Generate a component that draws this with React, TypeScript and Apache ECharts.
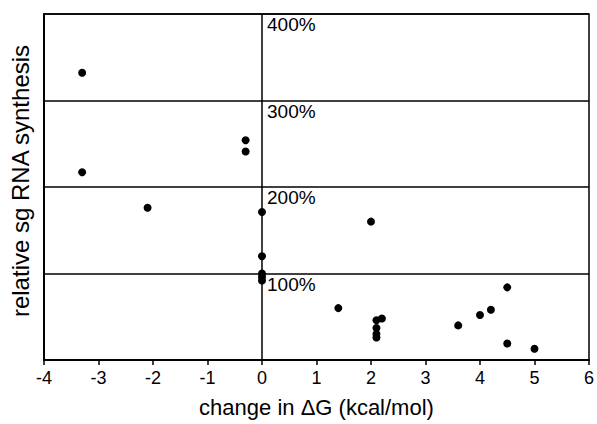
import React, { useEffect, useRef } from "react";
import * as echarts from "echarts";

const xValues = [-3.3, -0.3, -0.3, -3.3, -2.1, 0, 0, 0, 0, 0, 2.0, 1.4, 2.1, 2.2, 2.1, 2.1, 2.1, 3.6, 4.0, 4.2, 4.5, 4.5, 5.0];
const yValues = [332, 254, 241, 217, 176, 171, 120, 100, 96, 92, 160, 60, 46, 48, 37, 30, 26, 40, 52, 58, 84, 19, 13];
const levelValues = [400, 300, 200, 100];
const levelLabels = ["400%", "300%", "200%", "100%"];
const xTicks = [-4, -3, -2, -1, 0, 1, 2, 3, 4, 5, 6];

const FONT = "'Liberation Sans', Arial, sans-serif";

export default function App() {
  const ref = useRef<HTMLDivElement>(null);
  useEffect(() => {
    if (!ref.current) return;
    const chart = echarts.init(ref.current, undefined, { renderer: "svg" });
    chart.setOption({
      animation: false,
      backgroundColor: "#fff",
      grid: {
        left: 44,
        right: 8,
        top: 14,
        bottom: 64,
        containLabel: false,
        outerBoundsMode: "none",
        show: true,
        borderColor: "#000",
        borderWidth: 1.5,
        backgroundColor: "transparent",
      },
      xAxis: {
        type: "value",
        min: xTicks[0],
        max: xTicks[xTicks.length - 1],
        interval: 1,
        name: "change in \u0394G (kcal/mol)",
        nameLocation: "middle",
        nameGap: 36,
        nameTextStyle: { fontFamily: FONT, fontSize: 22, color: "#000" },
        axisLine: { show: true, onZero: false, lineStyle: { color: "#000", width: 2 } },
        axisTick: { show: true, length: 5, lineStyle: { color: "#000", width: 1.5 } },
        axisLabel: { fontFamily: FONT, fontSize: 18, color: "#000", margin: 9 },
        splitLine: { show: false },
      },
      yAxis: {
        type: "value",
        min: 0,
        max: 400,
        interval: 100,
        name: "relative sg RNA synthesis",
        nameLocation: "middle",
        nameGap: 12,
        nameTextStyle: { fontFamily: FONT, fontSize: 24, color: "#000", padding: [0, 0, 0, 12] },
        axisLine: { show: true, onZero: false, lineStyle: { color: "#000", width: 2 } },
        axisTick: { show: false },
        axisLabel: { show: false },
        splitLine: { show: true, lineStyle: { color: "#000", width: 1.5 } },
      },
      series: [
        {
          type: "scatter",
          data: xValues.map((x, i) => [x, yValues[i]]),
          symbol: "circle",
          symbolSize: 8,
          itemStyle: { color: "#000", opacity: 1 },
          z: 5,
          markLine: {
            silent: true,
            symbol: "none",
            label: { show: false },
            lineStyle: { color: "#000", width: 1.5, type: "solid" },
            data: [{ xAxis: 0 }],
          },
        },
        {
          type: "scatter",
          data: levelValues.map((v, i) => ({ value: [0, v], name: levelLabels[i] })),
          symbolSize: 0,
          silent: true,
          itemStyle: { opacity: 1 },
          label: {
            show: true,
            position: [5, 1],
            formatter: (p: any) => p.name,
            fontFamily: FONT,
            fontSize: 19,
            color: "#000",
            align: "left",
            verticalAlign: "top",
          },
        },
      ],
    });
    return () => chart.dispose();
  }, []);
  return <div ref={ref} style={{ width: 597, height: 424, position: "absolute", left: 0, top: 0 }} />;
}
